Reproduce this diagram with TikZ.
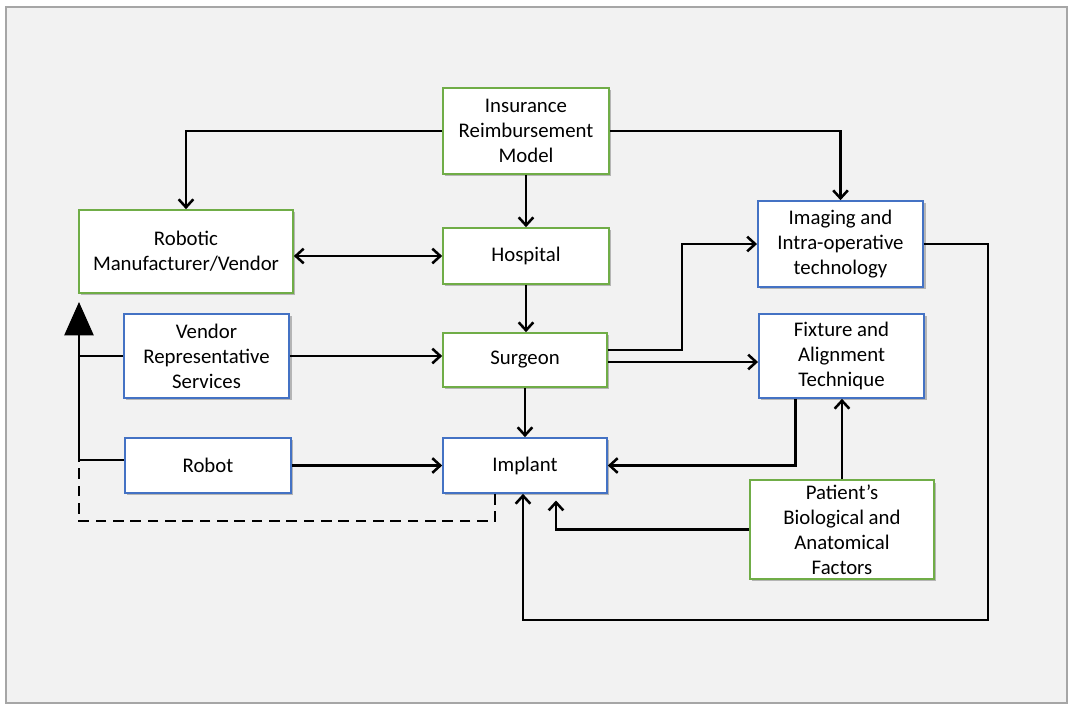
\documentclass[tikz,border=0pt]{standalone}
\usepackage{fontspec}
\setmainfont{Carlito}
\usepackage{xcolor}
\definecolor{boxGreen}{HTML}{70AD47}
\definecolor{boxBlue}{HTML}{4472C4}
\definecolor{pageBg}{HTML}{F2F2F2}
\definecolor{frameGray}{HTML}{A6A6A6}
\usetikzlibrary{arrows.meta,calc,shadows}
\tikzset{
    box/.style={draw, fill=white, line width=1.2pt, align=center, inner sep=2pt,
                font=\fontsize{15.6}{18.75}\selectfont,
                drop shadow={shadow xshift=1.8pt, shadow yshift=-1.8pt, opacity=0.25, fill=black}},
    greenBox/.style={box, draw=boxGreen},
    blueBox/.style ={box, draw=boxBlue},
    link/.style={draw=black, line width=2pt, -{Straight Barb[length=6pt,width=11pt,line width=1.9pt]}},
    dblLink/.style={link, {Straight Barb[length=6pt,width=11pt,line width=1.9pt]}-{Straight Barb[length=6pt,width=11pt,line width=1.9pt]}},
    feedLine/.style={draw=black, line width=1pt},
    dashLink/.style={draw=black, line width=2pt, dash pattern=on 8pt off 5pt}
}

\begin{document}
\begin{tikzpicture}[x=0.75pt, y=-0.75pt]
  % Page and frame
  \path[use as bounding box] (0,0) rectangle (1068,704);
  \draw[frameGray, line width=1.5pt, fill=pageBg] (5.5,6.5) rectangle (1067,703);

  % Boxes (positions in pixels of the page)
  \node[greenBox, minimum width=124.5pt, minimum height=64.5pt] (ins)   at (526,131)   {Insurance\\Reimbursement\\Model};
  \node[greenBox, minimum width=160.5pt, minimum height=62.3pt] (rob)   at (186,251.5) {Robotic\\Manufacturer/Vendor};
  \node[greenBox, minimum width=124.5pt, minimum height=42pt]   (hosp)  at (526,256)   {Hospital};
  \node[blueBox,  minimum width=124pt,   minimum height=64.5pt] (img)   at (840.5,244) {Imaging and\\Intra-operative\\technology};
  \node[blueBox,  minimum width=124pt,   minimum height=63pt]   (vrs)   at (206.5,356) {Vendor\\Representative\\Services};
  \node[greenBox, minimum width=123pt,   minimum height=40.5pt] (surg)  at (525,360)   {Surgeon};
  \node[blueBox,  minimum width=124pt,   minimum height=63pt]   (fix)   at (841.5,356) {Fixture and\\Alignment\\Technique};
  \node[blueBox,  minimum width=124.5pt, minimum height=41.3pt] (robot) at (208,465.5) {Robot};
  \node[blueBox,  minimum width=123pt,   minimum height=41.3pt] (impl)  at (525,465.5) {Implant};
  \node[greenBox, minimum width=138pt,   minimum height=74pt]   (pat)   at (842,529.5) {Patient's\\Biological and\\Anatomical\\Factors};

  % Helper points
  \coordinate (fbTop)    at (79,302);
  \coordinate (fbJoin)   at (79,460);
  \coordinate (fbCorner) at (79,521);
  \coordinate (loopR)    at (988,620);

  % Insurance links
  \draw[link] (ins.west) -| (rob.north);
  \draw[link] (ins.east) -| (img.north);
  \draw[link] (ins.south) -- (hosp.north);

  % Hospital and surgeon
  \draw[dblLink] (rob.east |- hosp.west) -- (hosp.west);
  \draw[link] (hosp.south) -- (hosp.south |- surg.north);
  \draw[link] ($(surg.east)+(0,-10)$) -| ($(img.west)+(-75,0)$) -- (img.west);
  \draw[link] ($(surg.east)+(0,2)$) coordinate (sf) -- (sf -| fix.west);
  \draw[link] (surg.south) -- (impl.north);
  \draw[link] (vrs.east) -- (vrs.east -| surg.west);
  \draw[link] (robot.east) -- (impl.west);

  % Right side into implant
  \draw[link] ($(fix.south)+(-46,0)$) |- (impl.east);
  \draw[link] (pat.north) -- (pat.north |- fix.south);
  \draw[link, shorten >=5pt] (pat.west) -| ($(impl.south)+(31,0)$);
  \draw[link] (img.east) -| (loopR) -| ($(impl.south)+(-2,0)$);

  % Feedback to the vendor
  \draw[feedLine] (vrs.west) -- (vrs.west -| fbJoin);
  \draw[feedLine] (fbJoin) -- (fbJoin -| robot.west);
  \draw[feedLine, -{Triangle[length=25pt,width=22pt]}] (fbJoin) -- (fbTop);
  \draw[dashLink] ($(impl.south)+(-30,0)$) |- (fbCorner) -- (fbJoin);
\end{tikzpicture}
\end{document}
